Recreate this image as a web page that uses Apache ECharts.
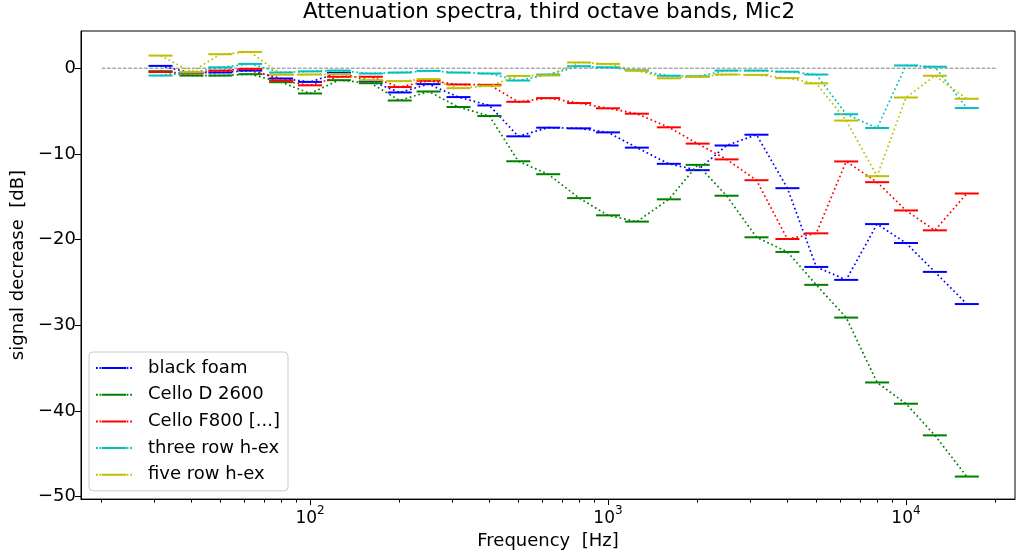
<!DOCTYPE html>
<html><head><meta charset="utf-8">
<script src="https://cdn.jsdelivr.net/npm/echarts@6/dist/echarts.min.js"></script>
<style>html,body{margin:0;padding:0;background:#fff}#c{width:1016px;height:555px}</style>
</head><body><div id="c"></div>
<script>
const bands = [31.5,40,50,63,80,100,125,160,200,250,315,400,500,630,800,1000,1250,1600,2000,2500,3150,4000,5000,6300,8000,10000,12500,16000];
const blackFoam = [0.27,-0.55,-0.5,-0.28,-1.2,-1.6,-0.55,-1.5,-2.83,-1.86,-3.37,-4.35,-7.95,-6.94,-7.02,-7.49,-9.27,-11.16,-11.9,-9.02,-7.76,-14.0,-23.19,-24.7,-18.19,-20.4,-23.77,-27.52];
const celloD2600 = [-0.35,-0.86,-0.86,-0.7,-1.63,-2.95,-1.4,-1.75,-3.77,-2.72,-4.53,-5.58,-10.86,-12.37,-15.16,-17.17,-17.9,-15.3,-11.28,-14.88,-19.73,-21.44,-25.28,-29.1,-36.67,-39.15,-42.84,-47.65];
const celloF800 = [-0.45,-0.6,-0.28,-0.08,-1.44,-2.0,-1.0,-1.0,-2.2,-1.47,-1.9,-1.94,-3.92,-3.49,-4.07,-4.68,-5.31,-6.9,-8.8,-10.64,-13.07,-19.93,-19.27,-10.88,-13.3,-16.6,-18.92,-14.62];
const threeRow = [-0.86,-0.5,0.1,0.5,-0.5,-0.37,-0.28,-0.62,-0.51,-0.31,-0.51,-0.62,-1.44,-0.74,0.23,0.1,-0.25,-0.88,-0.95,-0.28,-0.28,-0.41,-0.74,-5.37,-6.98,0.32,0.17,-4.65];
const fiveRow = [1.47,-0.43,1.63,1.9,-0.76,-0.74,-0.68,-1.4,-1.51,-1.28,-2.33,-2.06,-0.9,-0.85,0.67,0.5,-0.28,-1.18,-1.0,-0.74,-0.78,-1.16,-1.77,-6.11,-12.6,-3.42,-0.88,-3.57];
const seriesNames = ['black foam','Cello D 2600','Cello F800 [...]','three row h-ex','five row h-ex'];
const seriesValues = [blackFoam, celloD2600, celloF800, threeRow, fiveRow];
const seriesColors = ['#0000ff','#008000','#ff0000','#00bfbf','#bfbf00'];
const refLineX = [20, 20000];
const refLineY = [0, 0];
const yTicks = [-50,-40,-30,-20,-10,0];
const xMajorTicks = [100,1000,10000];
const xMinorTicks = [20,30,40,50,60,70,80,90,200,300,400,500,600,700,800,900,2000,3000,4000,5000,6000,7000,8000,9000,20000];

const FONT = 'DejaVu Sans';
const XMIN = 17.04, XMAX = 23220, YMIN = -50.28, YMAX = 4.34;
const legendIcon = 'path://M0 0h1.8v2h-1.8z M3.6 0h1.8v2h-1.8z M6 0h24v2h-24z M30.6 0h1.8v2h-1.8z M34.2 0h1.8v2h-1.8z';

const series = [{
  type: 'line', name: 'ref', data: refLineX.map((x, i) => [x, refLineY[i]]),
  symbol: 'none', silent: true,
  lineStyle: { color: '#808080', width: 1, type: [3.7, 1.6] }, z: 1
}];
seriesNames.forEach((n, k) => {
  series.push({
    type: 'line', name: n,
    data: bands.map((f, i) => [f, seriesValues[k][i]]),
    symbol: 'rect', symbolSize: [24, 2], showSymbol: true,
    itemStyle: { color: seriesColors[k] },
    lineStyle: { color: seriesColors[k], width: 1.7, type: [1.7, 2.8] },
    emphasis: { disabled: true }, z: 2 + k
  });
});

const chart = echarts.init(document.getElementById('c'), null, { renderer: 'canvas' });
chart.setOption({
  animation: false,
  backgroundColor: '#ffffff',
  title: {
    text: 'Attenuation spectra, third octave bands, Mic2',
    left: 549, top: 1, textAlign: 'center', padding: 0,
    textStyle: { fontFamily: FONT, fontSize: 21.5, fontWeight: 'normal', color: '#000' }
  },
  grid: { left: 81, right: 1, top: 31, bottom: 54, show: true, borderColor: '#000', borderWidth: 1, backgroundColor: 'transparent' },
  legend: {
    orient: 'vertical', left: 89, top: 352,
    padding: [7, 8, 7, 7],
    itemWidth: 36, itemHeight: 14, itemGap: 8.7,
    borderColor: '#cccccc', borderWidth: 1, borderRadius: 4,
    backgroundColor: 'rgba(255,255,255,0.8)',
    data: seriesNames.map(n => ({ name: n, icon: legendIcon })),
    textStyle: { fontFamily: FONT, fontSize: 18, color: '#000', lineHeight: 18, padding: [0, 0, 0, 11] }
  },
  xAxis: [{
    type: 'log', min: XMIN, max: XMAX, logBase: 10,
    name: 'Frequency  [Hz]', nameLocation: 'middle', nameGap: 30,
    nameTextStyle: { fontFamily: FONT, fontSize: 18, color: '#000' },
    axisLine: { show: true, onZero: false, lineStyle: { color: '#000', width: 1 } },
    axisTick: { show: true, length: 6, customValues: xMajorTicks, lineStyle: { color: '#000', width: 1 } },
    axisLabel: {
      show: true, customValues: xMajorTicks, margin: 6,
      formatter: v => '{b|10}{s|' + Math.round(Math.log10(v)) + '}',
      rich: {
        b: { fontFamily: FONT, fontSize: 17, color: '#000', lineHeight: 22, verticalAlign: 'bottom' },
        s: { fontFamily: FONT, fontSize: 12, color: '#000', lineHeight: 22, verticalAlign: 'top' }
      }
    },
    splitLine: { show: false }, minorTick: { show: false }
  }, {
    type: 'log', min: XMIN, max: XMAX, logBase: 10, position: 'bottom', gridIndex: 0,
    axisLine: { show: false, onZero: false },
    axisTick: { show: true, length: 3.5, customValues: xMinorTicks, lineStyle: { color: '#000', width: 1 } },
    axisLabel: { show: false },
    splitLine: { show: false }
  }],
  yAxis: {
    type: 'value', min: YMIN, max: YMAX,
    name: 'signal decrease  [dB]', nameLocation: 'middle', nameGap: 51,
    nameTextStyle: { fontFamily: FONT, fontSize: 18, color: '#000' },
    axisLine: { show: true, onZero: false, lineStyle: { color: '#000', width: 1 } },
    axisTick: { show: true, length: 6, customValues: yTicks, lineStyle: { color: '#000', width: 1 } },
    axisLabel: {
      show: true, customValues: yTicks, margin: 5,
      fontFamily: FONT, fontSize: 18, color: '#000',
      formatter: v => (v < 0 ? '\u2212' + Math.abs(v) : String(v))
    },
    splitLine: { show: false }
  },
  series: series
});
</script>
</body></html>
